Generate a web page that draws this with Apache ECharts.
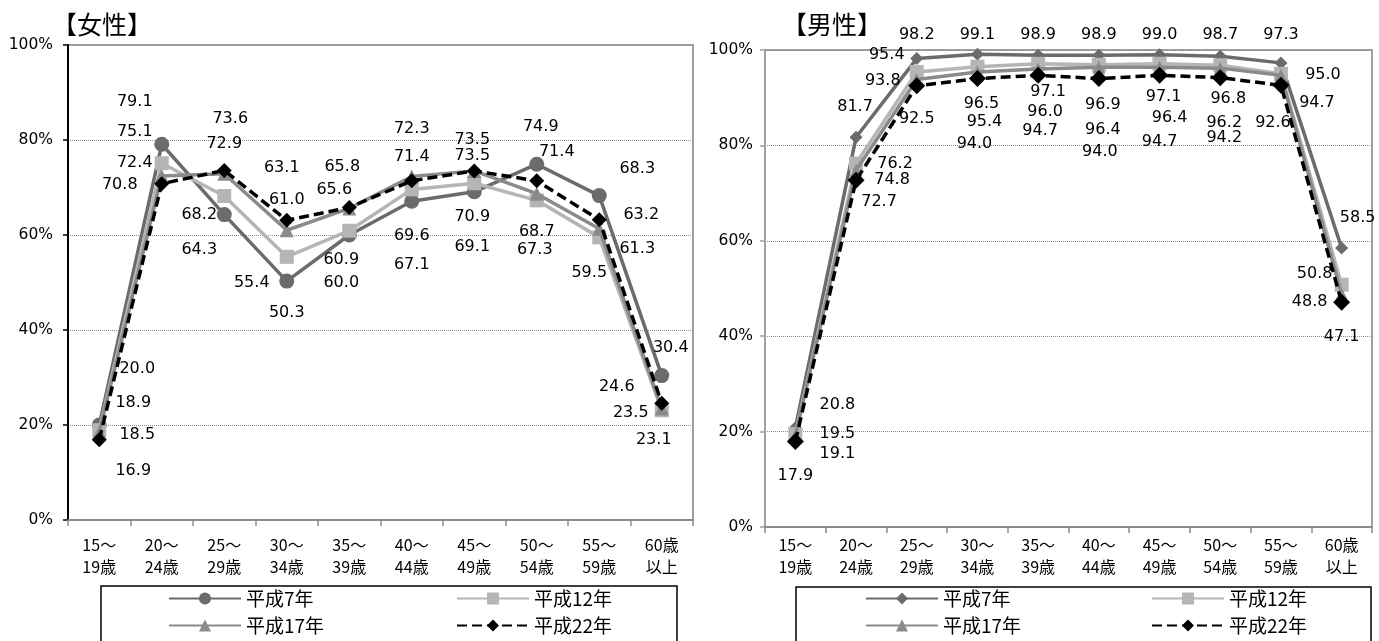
<!DOCTYPE html>
<html>
<head>
<meta charset="utf-8">
<script src="https://cdn.jsdelivr.net/npm/echarts@6/dist/echarts.min.js"></script>
<style>
  html, body { margin: 0; padding: 0; background: #ffffff; }
  #chart { width: 1379px; height: 641px; }
</style>
</head>
<body>
<div id="chart"></div>
<script>
// Age groups on the category axis
const ageGroups = ['15～\n19歳', '20～\n24歳', '25～\n29歳', '30～\n34歳', '35～\n39歳',
                   '40～\n44歳', '45～\n49歳', '50～\n54歳', '55～\n59歳', '60歳\n以上'];
const yearNames = ['平成7年', '平成12年', '平成17年', '平成22年'];
const yTicks = [0, 20, 40, 60, 80, 100];

// Labour force participation rate, women (%)
const femaleH7  = [20.0, 79.1, 64.3, 50.3, 60.0, 67.1, 69.1, 74.9, 68.3, 30.4];
const femaleH12 = [18.9, 75.1, 68.2, 55.4, 60.9, 69.6, 70.9, 67.3, 59.5, 23.1];
const femaleH17 = [18.5, 72.4, 72.9, 61.0, 65.6, 72.3, 73.5, 68.7, 61.3, 23.5];
const femaleH22 = [16.9, 70.8, 73.6, 63.1, 65.8, 71.4, 73.5, 71.4, 63.2, 24.6];

// Labour force participation rate, men (%)
const maleH7  = [20.8, 81.7, 98.2, 99.1, 98.9, 98.9, 99.0, 98.7, 97.3, 58.5];
const maleH12 = [19.5, 76.2, 95.4, 96.5, 97.1, 96.9, 97.1, 96.8, 95.0, 50.8];
const maleH17 = [19.1, 74.8, 93.8, 95.4, 96.0, 96.4, 96.4, 96.2, 94.7, 48.8];
const maleH22 = [17.9, 72.7, 92.5, 94.0, 94.7, 94.0, 94.7, 94.2, 92.6, 47.1];

// Value label offsets (px) from each point, keeping crowded labels apart
const femaleLabelShift = [
  [[38,-56],[-27,-42],[-25,35],[0,32],[-8,48],[0,64],[-2,55],[4,-37],[38,-27],[9,-28]],
  [[34,-27],[-27,-31],[-25,19],[-35,26],[-8,29],[0,46],[-2,34],[-2,50],[-10,35],[-8,30]],
  [[38,3],[-27,-13],[0,-30],[0,-30],[-15,-19],[0,-48],[-2,-15],[0,38],[38,20],[-31,4]],
  [[34,31],[-42,1],[6,-52],[-5,-52],[-7,-41],[0,-24],[-2,-31],[20,-29],[42,-5],[-45,-16]]
];
const maleLabelShift = [
  [[42,-23],[-1,-30],[0,-24],[0,-19],[0,-20],[0,-20],[0,-20],[0,-21],[0,-28],[16,-30]],
  [[42,0],[39,0],[-30,-17],[4,37],[10,28],[4,40],[4,33],[8,34],[42,1],[-27,-11]],
  [[42,18],[36,10],[-34,1],[7,50],[7,43],[4,63],[10,51],[4,55],[36,28],[-32,8]],
  [[0,34],[23,22],[0,33],[-3,65],[2,56],[1,73],[0,67],[4,60],[-8,38],[0,35]]
];

const CJK = '"Noto Sans CJK JP", "Noto Sans", sans-serif';
const NUM = '"DejaVu Sans", "Liberation Sans", sans-serif';

const femaleStyles = [
  { color: '#6b6b6b', symbol: 'circle',   size: 15, dash: 'solid' },
  { color: '#b5b5b5', symbol: 'rect',     size: 14, dash: 'solid' },
  { color: '#8a8a8a', symbol: 'triangle', size: 14, dash: 'solid' },
  { color: '#000000', symbol: 'diamond',  size: 15, dash: [10, 5] }
];
const maleStyles = [
  { color: '#6b6b6b', symbol: 'diamond',  size: 13, dash: 'solid' },
  { color: '#b5b5b5', symbol: 'rect',     size: 14, dash: 'solid' },
  { color: '#8a8a8a', symbol: 'triangle', size: 13, dash: 'solid' },
  { color: '#000000', symbol: 'diamond',  size: 17, dash: [10, 5] }
];

function buildSeries(prefix, values, shifts, styles, axisIndex) {
  return values.map((vals, k) => ({
    name: prefix + ' ' + yearNames[k],
    type: 'line',
    xAxisIndex: axisIndex,
    yAxisIndex: axisIndex,
    symbol: styles[k].symbol,
    symbolSize: styles[k].size,
    showAllSymbol: true,
    z: 2 + k,
    lineStyle: { color: styles[k].color, width: 3.5, type: styles[k].dash },
    itemStyle: { color: styles[k].color },
    label: {
      show: true,
      position: 'inside',
      color: '#000',
      fontFamily: NUM,
      fontSize: 16,
      formatter: p => p.value.toFixed(1)
    },
    emphasis: { disabled: true },
    data: vals.map((v, i) => ({ value: v, label: { offset: shifts[k][i] } }))
  }));
}

function xAxisFor(grid, margin) {
  return {
    type: 'category',
    gridIndex: grid,
    data: ageGroups,
    boundaryGap: true,
    axisLine: { lineStyle: { color: '#8c8c8c', width: 2 } },
    axisTick: { show: true, length: 6, lineStyle: { color: '#8c8c8c', width: 1.5 } },
    axisLabel: { color: '#000', fontFamily: CJK, fontSize: 16, lineHeight: 22, margin: margin, interval: 0 }
  };
}
function yAxisFor(grid, lineColor, margin) {
  return {
    type: 'value',
    gridIndex: grid,
    min: yTicks[0],
    max: yTicks[yTicks.length - 1],
    interval: yTicks[1] - yTicks[0],
    axisLine: { show: true, lineStyle: { color: lineColor, width: 2 } },
    axisTick: { show: true, length: 5, lineStyle: { color: lineColor, width: 1.5 } },
    axisLabel: { color: '#000', fontFamily: NUM, fontSize: 15.5, margin: margin, formatter: '{value}%' },
    splitLine: { show: true, lineStyle: { color: '#8c8c8c', type: 'dotted', width: 1 } }
  };
}

function legendItem(name, left, top) {
  return {
    data: [name],
    left: left,
    top: top,
    orient: 'horizontal',
    padding: 0,
    itemWidth: 72,
    itemHeight: 15,
    selectedMode: false,
    textStyle: { color: '#000', fontFamily: CJK, fontSize: 19 },
    formatter: n => n.split(' ')[1]
  };
}

const chart = echarts.init(document.getElementById('chart'), null, { renderer: 'canvas' });

const femaleSeries = buildSeries('女性', [femaleH7, femaleH12, femaleH17, femaleH22], femaleLabelShift, femaleStyles, 0);
const maleSeries = buildSeries('男性', [maleH7, maleH12, maleH17, maleH22], maleLabelShift, maleStyles, 1);

const titleText = { fontFamily: CJK, fontSize: 25, fontWeight: 'normal', color: '#000' };

chart.setOption({
  animation: false,
  backgroundColor: '#ffffff',
  title: [
    { text: '【女性】', left: 52, top: 12, padding: 0, textStyle: titleText },
    { text: '【男性】', left: 782, top: 12, padding: 0, textStyle: titleText }
  ],
  grid: [
    { left: 68, top: 45, right: 686, bottom: 121, show: true, borderColor: '#a0a0a0', borderWidth: 2 },
    { left: 765, top: 50, right: 7, bottom: 114, show: true, borderColor: '#a0a0a0', borderWidth: 2 }
  ],
  xAxis: [xAxisFor(0, 14), xAxisFor(1, 7)],
  yAxis: [yAxisFor(0, '#000000', 15), yAxisFor(1, '#a0a0a0', 12)],
  legend: [
    legendItem('女性 平成7年', 168, 589),
    legendItem('女性 平成12年', 456, 589),
    legendItem('女性 平成17年', 168, 616),
    legendItem('女性 平成22年', 456, 616),
    legendItem('男性 平成7年', 865, 589),
    legendItem('男性 平成12年', 1151, 589),
    legendItem('男性 平成17年', 865, 616),
    legendItem('男性 平成22年', 1151, 616)
  ],
  graphic: [
    { type: 'rect', shape: { x: 101, y: 586, width: 576, height: 80 }, style: { fill: 'none', stroke: '#000', lineWidth: 1.5 }, silent: true },
    { type: 'rect', shape: { x: 796, y: 587, width: 575, height: 80 }, style: { fill: 'none', stroke: '#000', lineWidth: 1.5 }, silent: true }
  ],
  series: femaleSeries.concat(maleSeries)
});
</script>
</body>
</html>
